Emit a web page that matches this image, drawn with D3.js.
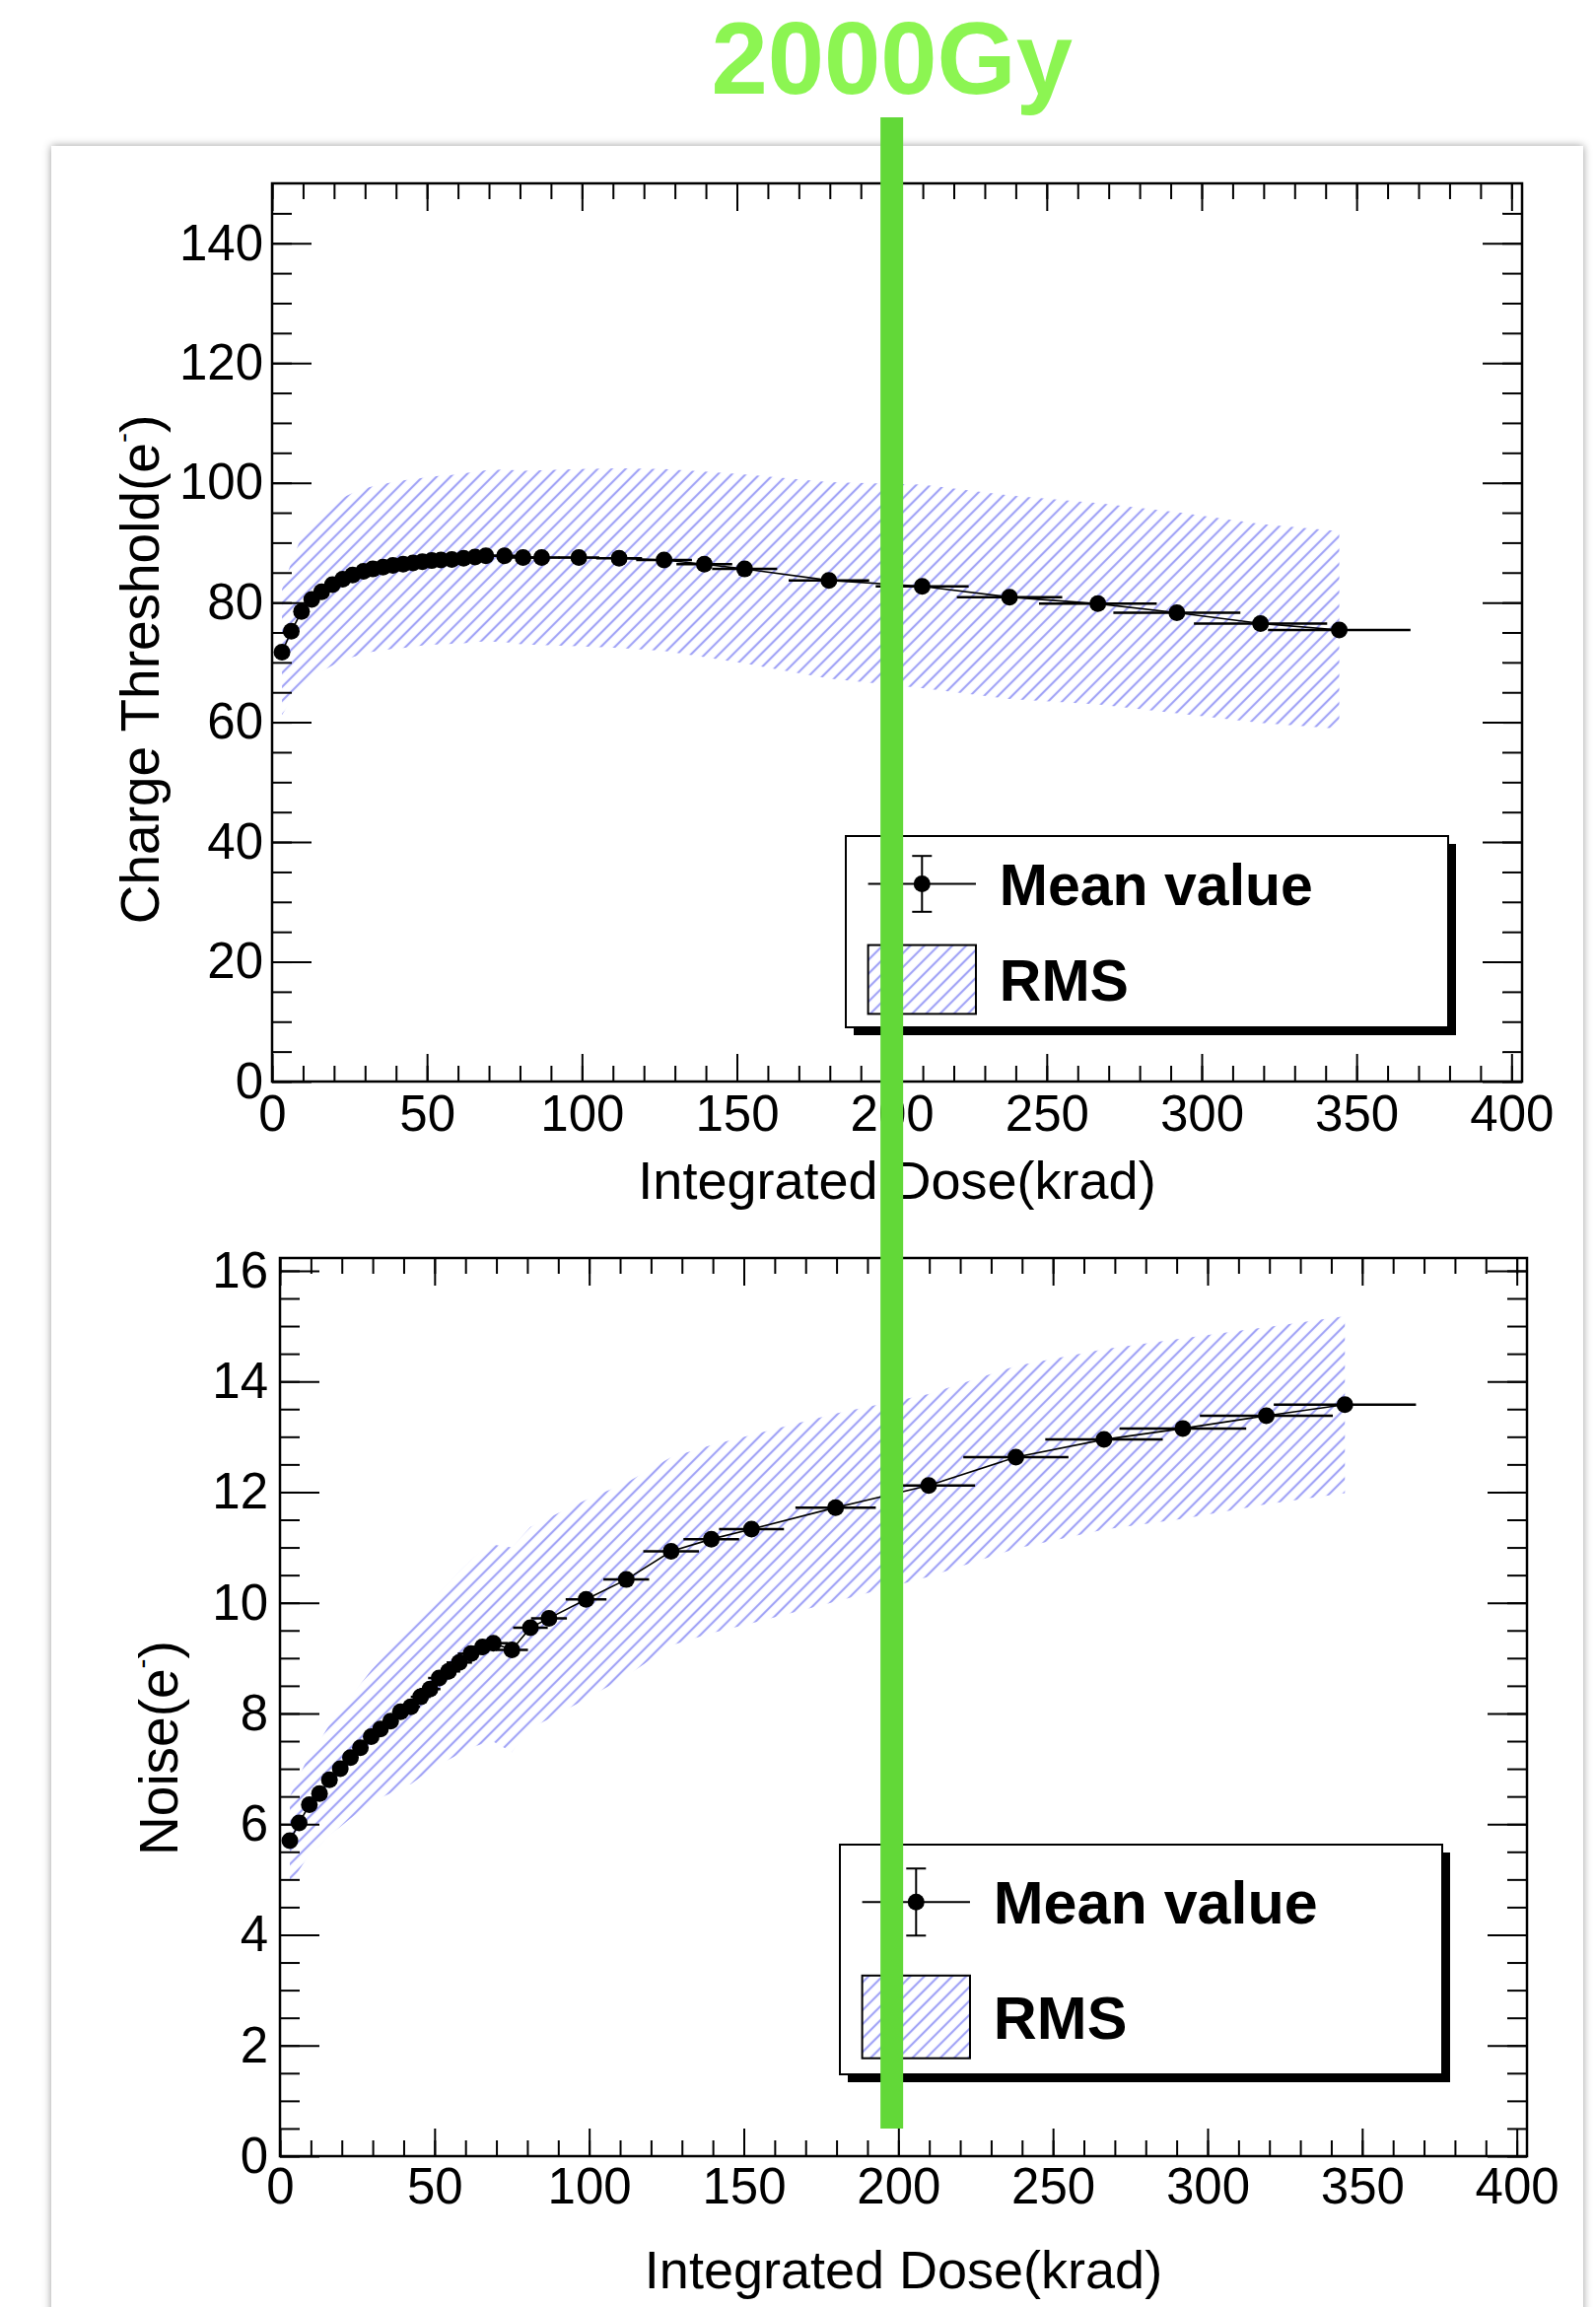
<!DOCTYPE html>
<html>
<head>
<meta charset="utf-8">
<script src="https://cdn.jsdelivr.net/npm/d3@7"></script>
<style>
  html, body { margin: 0; padding: 0; background: #fff; }
  svg { display: block; font-family: "Liberation Sans", Arial, Helvetica, sans-serif; }
</style>
</head>
<body>
<svg id="chart" width="1619" height="2340"></svg>
<script>
// ==================== DATA ====================
// integrated dose of each measurement step (krad) and its uncertainty
const dose = [3.2, 6.2, 9.5, 12.8, 16, 19.5, 22.8, 26, 29.5, 32.5, 35.8, 39, 42.3, 45.5, 48.5, 51.5,
  54.5, 58, 61.8, 65.5, 69, 75, 81, 87, 99, 112, 126.5, 139.5, 152.5, 179.7, 209.8, 238, 266.5,
  292, 319, 344.4];
const doseErr = [0.2, 0.4, 0.7, 0.9, 1.1, 1.4, 1.6, 1.8, 2.1, 2.3, 2.5, 2.7, 3, 3.2, 3.4, 3.6,
  3.8, 4.1, 4.3, 4.6, 4.8, 5.2, 5.6, 5.8, 6.6, 7.4, 9, 9, 10.5, 13, 15, 17, 19,
  20.5, 21.5, 23];

// charge threshold (e-): mean and RMS
const thrMean = [71.7, 75.2, 78.5, 80.5, 81.8, 83, 83.9, 84.6, 85.2, 85.6, 85.9, 86.2, 86.4, 86.6, 86.8, 87,
  87.1, 87.2, 87.4, 87.6, 87.8, 87.8, 87.5, 87.5, 87.5, 87.4, 87.1, 86.4, 85.6, 83.7, 82.7, 80.9, 79.8,
  78.3, 76.5, 75.4];
const thrRms = [10.5, 11.5, 12.5, 13, 13.3, 13.5, 13.6, 13.7, 13.8, 13.8, 13.9, 13.9, 14, 14, 14, 14,
  14.1, 14.1, 14.2, 14.2, 14.3, 14.4, 14.5, 14.6, 14.8, 15, 15.2, 15.5, 15.8, 16.4, 17, 17, 16.8,
  16.8, 16.6, 16.5];

// noise (e-): mean and RMS
const noiseMean = [5.7, 6.02, 6.35, 6.55, 6.8, 7.0, 7.2, 7.38, 7.58, 7.72, 7.86, 8.03, 8.12, 8.3, 8.44, 8.64,
  8.76, 8.92, 9.08, 9.2, 9.27, 9.15, 9.55, 9.72, 10.06, 10.42, 10.93, 11.15, 11.33, 11.72, 12.12, 12.63, 12.95,
  13.15, 13.38, 13.58];
const noiseRms = [0.8, 0.85, 0.9, 0.95, 1.0, 1.05, 1.1, 1.15, 1.2, 1.25, 1.3, 1.35, 1.4, 1.45, 1.5, 1.55,
  1.6, 1.65, 1.7, 1.75, 1.78, 1.85, 1.82, 1.82, 1.8, 1.75, 1.7, 1.7, 1.7, 1.7, 1.65, 1.65, 1.63,
  1.63, 1.6, 1.6];

const xTicks = [0, 50, 100, 150, 200, 250, 300, 350, 400];
const thrTicks = [0, 20, 40, 60, 80, 100, 120, 140];
const noiseTicks = [0, 2, 4, 6, 8, 10, 12, 14, 16];
const legendLabels = ["Mean value", "RMS"];
const markerDose = 200;
const markerText = "2000Gy";

// ==================== CONFIG ====================
const panels = [
  {
    left: 276, right: 1544, top: 186, bottom: 1097,
    xMax: 403.4, yMax: 150, yTicks: thrTicks, yMinor: 5,
    mean: thrMean, rms: thrRms,
    yTitle: ["Charge Threshold(e", ")"], yTitleX: 161, yTitleY: 679,
    xTitleY: 1216, xPad: 14, yPad: 9,
    legend: { x: 858, y: 848, w: 611, h: 194, font: 59 },
  },
  {
    left: 284, right: 1549, top: 1276, bottom: 2187,
    xMax: 403.3, yMax: 16.23, yTicks: noiseTicks, yMinor: 0.5,
    mean: noiseMean, rms: noiseRms,
    yTitle: ["Noise(e", ")"], yTitleX: 180, yTitleY: 1773,
    xTitleY: 2321, xPad: 12, yPad: 12,
    legend: { x: 852, y: 1871, w: 611, h: 233, font: 61 },
  },
];
const markerR = 8.5;

const svg = d3.select("#chart");
const defs = svg.append("defs");

// hatch like ROOT fill style 3004
const hatch = defs.append("pattern")
  .attr("id", "hatch")
  .attr("patternUnits", "userSpaceOnUse")
  .attr("width", 10).attr("height", 10)
  .attr("patternTransform", "rotate(45)");
hatch.append("line")
  .attr("x1", 5).attr("y1", -2).attr("x2", 5).attr("y2", 12)
  .attr("stroke", "#a2a4f6").attr("stroke-width", 2.2);

const shadow = defs.append("filter").attr("id", "cardShadow")
  .attr("x", "-5%").attr("y", "-5%").attr("width", "110%").attr("height", "110%");
shadow.append("feDropShadow")
  .attr("dx", 0).attr("dy", 0).attr("stdDeviation", 4)
  .attr("flood-color", "#000").attr("flood-opacity", 0.4);

// white card the plots sit on
svg.append("rect")
  .attr("x", 52).attr("y", 148).attr("width", 1554).attr("height", 2300)
  .attr("fill", "#fff").attr("filter", "url(#cardShadow)");

let topX = null;
panels.forEach((p, i) => {
  const x = drawPanel(p);
  if (i === 0) topX = x;
});

// ==================== 2000 Gy MARKER ====================
svg.append("line")
  .attr("x1", topX(markerDose)).attr("x2", topX(markerDose))
  .attr("y1", 119).attr("y2", 2159)
  .attr("stroke", "#62d838").attr("stroke-width", 23);
svg.append("text")
  .attr("x", topX(markerDose)).attr("y", 95)
  .attr("text-anchor", "middle")
  .attr("font-size", 103).attr("font-weight", "bold")
  .attr("fill", "#8cf552")
  .text(markerText);

// ==================== PANEL ====================
function drawPanel(p) {
  const g = svg.append("g");
  const x = d3.scaleLinear().domain([0, p.xMax]).range([p.left, p.right]);
  const y = d3.scaleLinear().domain([0, p.yMax]).range([p.bottom, p.top]);

  const pts = dose.map((d, i) => ({ dose: d, err: doseErr[i], mean: p.mean[i], rms: p.rms[i] }));

  // RMS band
  g.append("path")
    .datum(pts)
    .attr("fill", "url(#hatch)")
    .attr("d", d3.area()
      .x((d) => x(d.dose))
      .y0((d) => y(d.mean - d.rms))
      .y1((d) => y(d.mean + d.rms)));

  // connecting line
  g.append("path")
    .datum(pts)
    .attr("fill", "none")
    .attr("stroke", "#000")
    .attr("stroke-width", 1.6)
    .attr("d", d3.line().x((d) => x(d.dose)).y((d) => y(d.mean)));

  // horizontal error bars
  g.selectAll(".xerr")
    .data(pts)
    .enter()
    .append("line")
    .attr("x1", (d) => x(d.dose - d.err))
    .attr("x2", (d) => x(d.dose + d.err))
    .attr("y1", (d) => y(d.mean))
    .attr("y2", (d) => y(d.mean))
    .attr("stroke", "#000")
    .attr("stroke-width", 2.5);

  g.selectAll(".pt")
    .data(pts)
    .enter()
    .append("circle")
    .attr("cx", (d) => x(d.dose))
    .attr("cy", (d) => y(d.mean))
    .attr("r", markerR)
    .attr("fill", "#000");

  // axes (ROOT style: ticks inward on all four sides)
  const xMinor = d3.range(0, p.xMax, 10);
  const yMinor = d3.range(0, p.yMax, p.yMinor);
  const styleAxis = (sel) => {
    sel.select(".domain").remove();
    sel.selectAll("line").attr("stroke", "#000").attr("stroke-width", 2);
    sel.selectAll("text")
      .attr("font-family", null)
      .style("font-family", "'Liberation Sans', Arial, Helvetica, sans-serif")
      .style("font-size", "51px")
      .attr("fill", "#000");
  };

  g.append("g").attr("transform", `translate(0,${p.bottom})`)
    .call(d3.axisBottom(x).tickValues(xMinor).tickSize(-16).tickFormat("")).call(styleAxis);
  g.append("g").attr("transform", `translate(0,${p.bottom})`)
    .call(d3.axisBottom(x).tickValues(xTicks).tickSize(-28).tickPadding(p.xPad).tickFormat(d3.format("d")))
    .call(styleAxis);
  g.append("g").attr("transform", `translate(0,${p.top})`)
    .call(d3.axisTop(x).tickValues(xMinor).tickSize(-16).tickFormat("")).call(styleAxis);
  g.append("g").attr("transform", `translate(0,${p.top})`)
    .call(d3.axisTop(x).tickValues(xTicks).tickSize(-28).tickFormat("")).call(styleAxis);

  g.append("g").attr("transform", `translate(${p.left},0)`)
    .call(d3.axisLeft(y).tickValues(yMinor).tickSize(-20).tickFormat("")).call(styleAxis);
  g.append("g").attr("transform", `translate(${p.left},0)`)
    .call(d3.axisLeft(y).tickValues(p.yTicks).tickSize(-40).tickPadding(p.yPad).tickFormat(d3.format("d")))
    .call(styleAxis);
  g.append("g").attr("transform", `translate(${p.right},0)`)
    .call(d3.axisRight(y).tickValues(yMinor).tickSize(-20).tickFormat("")).call(styleAxis);
  g.append("g").attr("transform", `translate(${p.right},0)`)
    .call(d3.axisRight(y).tickValues(p.yTicks).tickSize(-40).tickFormat("")).call(styleAxis);

  // frame
  g.append("rect")
    .attr("x", p.left).attr("y", p.top)
    .attr("width", p.right - p.left).attr("height", p.bottom - p.top)
    .attr("fill", "none").attr("stroke", "#000").attr("stroke-width", 2.5);

  // titles
  g.append("text")
    .attr("x", (p.left + p.right) / 2).attr("y", p.xTitleY)
    .attr("text-anchor", "middle")
    .attr("font-size", 54)
    .text("Integrated Dose(krad)");

  const yt = g.append("text")
    .attr("transform", `translate(${p.yTitleX},${p.yTitleY}) rotate(-90)`)
    .attr("text-anchor", "middle")
    .attr("font-size", 55);
  yt.append("tspan").text(p.yTitle[0]);
  yt.append("tspan").attr("dy", -26).attr("font-size", 30).text("-");
  yt.append("tspan").attr("dy", 26).text(p.yTitle[1]);

  drawLegend(p.legend);
  return x;
}

// ==================== LEGEND ====================
function drawLegend(L) {
  const g = svg.append("g").attr("transform", `translate(${L.x},${L.y})`);
  // ROOT legend shadow
  g.append("rect")
    .attr("x", 8).attr("y", 8).attr("width", L.w).attr("height", L.h)
    .attr("fill", "#000");
  g.append("rect")
    .attr("width", L.w).attr("height", L.h)
    .attr("fill", "#fff").attr("stroke", "#000").attr("stroke-width", 2);

  const sx0 = L.w * 0.037, sx1 = L.w * 0.216, sxc = (sx0 + sx1) / 2;
  const y1 = L.h * 0.25, y2 = L.h * 0.75;
  const half = L.h * 0.146;

  // mean value symbol: marker with error bars
  g.append("line").attr("x1", sx0).attr("x2", sx1).attr("y1", y1).attr("y2", y1)
    .attr("stroke", "#000").attr("stroke-width", 2);
  g.append("line").attr("x1", sxc).attr("x2", sxc).attr("y1", y1 - half).attr("y2", y1 + half)
    .attr("stroke", "#000").attr("stroke-width", 2);
  [y1 - half, y1 + half].forEach((yy) => {
    g.append("line").attr("x1", sxc - 10).attr("x2", sxc + 10).attr("y1", yy).attr("y2", yy)
      .attr("stroke", "#000").attr("stroke-width", 2);
  });
  g.append("circle").attr("cx", sxc).attr("cy", y1).attr("r", markerR).attr("fill", "#000");

  // RMS symbol
  const bh = L.h * 0.36;
  g.append("rect")
    .attr("x", sx0).attr("y", y2 - bh / 2).attr("width", sx1 - sx0).attr("height", bh)
    .attr("fill", "url(#hatch)").attr("stroke", "#000").attr("stroke-width", 2);

  g.selectAll(".lab")
    .data(legendLabels)
    .enter()
    .append("text")
    .attr("x", L.w * 0.255)
    .attr("y", (d, i) => (i === 0 ? y1 : y2))
    .attr("dy", "0.36em")
    .attr("font-size", L.font)
    .attr("font-weight", "bold")
    .text((d) => d);
}
</script>
</body>
</html>
